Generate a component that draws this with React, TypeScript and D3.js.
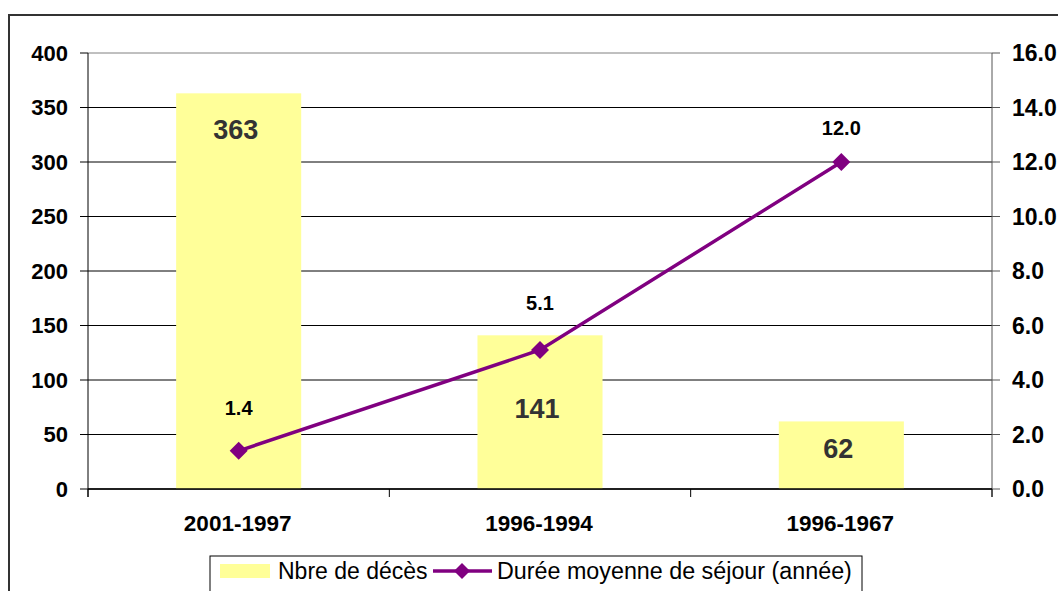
import React from "react";
import * as d3 from "d3";

const categories = ["2001-1997", "1996-1994", "1996-1967"];
const deaths = [363, 141, 62];
const stay = [1.4, 5.1, 12.0];
const leftTicks = [0, 50, 100, 150, 200, 250, 300, 350, 400];
const rightTicks = [0, 2, 4, 6, 8, 10, 12, 14, 16];

// style-only offsets for label placement
const barLabelOffsets = [36, 73, 27];
const lineLabelOffsets = [-43, -47, -34];

const W = 1058;
const H = 591;
const L = 88;
const R = 992;
const T = 53;
const B = 489;
const FONT = "'Liberation Sans', Arial, sans-serif";
const PURPLE = "#800080";
const YELLOW = "#FFFF99";

export default function App() {
  const x = d3
    .scaleBand<string>()
    .domain(categories)
    .range([L, R])
    .paddingInner(0.585)
    .paddingOuter(0.2925);
  const yL = d3.scaleLinear().domain([0, 400]).range([B, T]);
  const yR = d3.scaleLinear().domain([0, 16]).range([B, T]);
  const cx = (c: string) => (x(c) as number) + x.bandwidth() / 2;
  const step = x.step();

  const line = d3
    .line<number>()
    .x((_, i) => cx(categories[i]))
    .y((d) => yR(d));

  const diamond = (px: number, py: number, r: number) =>
    `M${px},${py - r}L${px + r},${py}L${px},${py + r}L${px - r},${py}Z`;

  return (
    <svg
      width={W}
      height={H}
      style={{ position: "absolute", left: 0, top: 0, background: "#fff" }}
      fontFamily={FONT}
    >
      {/* outer chart border */}
      <rect x={9} y={15} width={1100} height={700} fill="none" stroke="#333" strokeWidth={2} />

      {/* gridlines */}
      {leftTicks.map((t) => (
        <line
          key={"g" + t}
          x1={L}
          x2={R}
          y1={yL(t)}
          y2={yL(t)}
          stroke={t === 400 ? "#808080" : "#000"}
          strokeWidth={1}
        />
      ))}

      {/* bars */}
      {categories.map((c, i) => (
        <rect
          key={"b" + c}
          x={x(c)}
          y={yL(deaths[i])}
          width={x.bandwidth()}
          height={B - yL(deaths[i])}
          fill={YELLOW}
        />
      ))}

      {/* left axis */}
      <line x1={L} x2={L} y1={T} y2={B + 8} stroke="#000" strokeWidth={1} />
      {leftTicks.map((t) => (
        <g key={"lt" + t}>
          <line x1={L - 8} x2={L} y1={yL(t)} y2={yL(t)} stroke="#000" />
          <text
            x={68}
            y={yL(t)}
            dy="0.36em"
            textAnchor="end"
            fontSize={22}
            fontWeight="bold"
            fill="#000"
          >
            {t}
          </text>
        </g>
      ))}

      {/* right axis */}
      <line x1={R} x2={R} y1={T} y2={B + 8} stroke="#555" strokeWidth={1} />
      {rightTicks.map((t) => (
        <g key={"rt" + t}>
          <line x1={R} x2={R + 8} y1={yR(t)} y2={yR(t)} stroke="#555" />
          <text
            x={1012}
            y={yR(t)}
            dy="0.36em"
            textAnchor="start"
            fontSize={23}
            fontWeight="bold"
            fill="#000"
          >
            {t.toFixed(1)}
          </text>
        </g>
      ))}

      {/* baseline & category ticks */}
      <line x1={L} x2={R} y1={B} y2={B} stroke="#000" strokeWidth={1.5} />
      {d3.range(categories.length + 1).map((i) => (
        <line
          key={"ct" + i}
          x1={L + i * step}
          x2={L + i * step}
          y1={B}
          y2={B + 8}
          stroke="#000"
        />
      ))}
      {categories.map((c) => (
        <text
          key={"cl" + c}
          x={cx(c) - 1}
          y={531}
          textAnchor="middle"
          fontSize={22.5}
          fontWeight="bold"
          fill="#000"
        >
          {c}
        </text>
      ))}

      {/* bar labels */}
      {categories.map((c, i) => (
        <text
          key={"bl" + c}
          x={cx(c) - 3}
          y={yL(deaths[i]) + barLabelOffsets[i]}
          dy="0.36em"
          textAnchor="middle"
          fontSize={27}
          fontWeight="bold"
          fill="#333"
        >
          {deaths[i]}
        </text>
      ))}

      {/* line */}
      <path d={line(stay) || ""} fill="none" stroke={PURPLE} strokeWidth={3.5} />
      {stay.map((v, i) => (
        <path key={"m" + i} d={diamond(cx(categories[i]), yR(v), 9)} fill={PURPLE} />
      ))}
      {stay.map((v, i) => (
        <text
          key={"ll" + i}
          x={cx(categories[i])}
          y={yR(v) + lineLabelOffsets[i]}
          dy="0.36em"
          textAnchor="middle"
          fontSize={20}
          fontWeight="bold"
          fill="#000"
        >
          {v.toFixed(1)}
        </text>
      ))}

      {/* legend */}
      <rect x={210} y={556} width={652} height={50} fill="#fff" stroke="#000" strokeWidth={1} />
      <rect x={220} y={564} width={50} height={14} fill={YELLOW} />
      <text x={278} y={579} fontSize={23} fill="#000">
        Nbre de décès
      </text>
      <line x1={433} x2={492} y1={571} y2={571} stroke={PURPLE} strokeWidth={3.5} />
      <path d={diamond(462, 571, 8)} fill={PURPLE} />
      <text x={497} y={579} fontSize={23.3} fill="#000">
        Durée moyenne de séjour (année)
      </text>
    </svg>
  );
}
